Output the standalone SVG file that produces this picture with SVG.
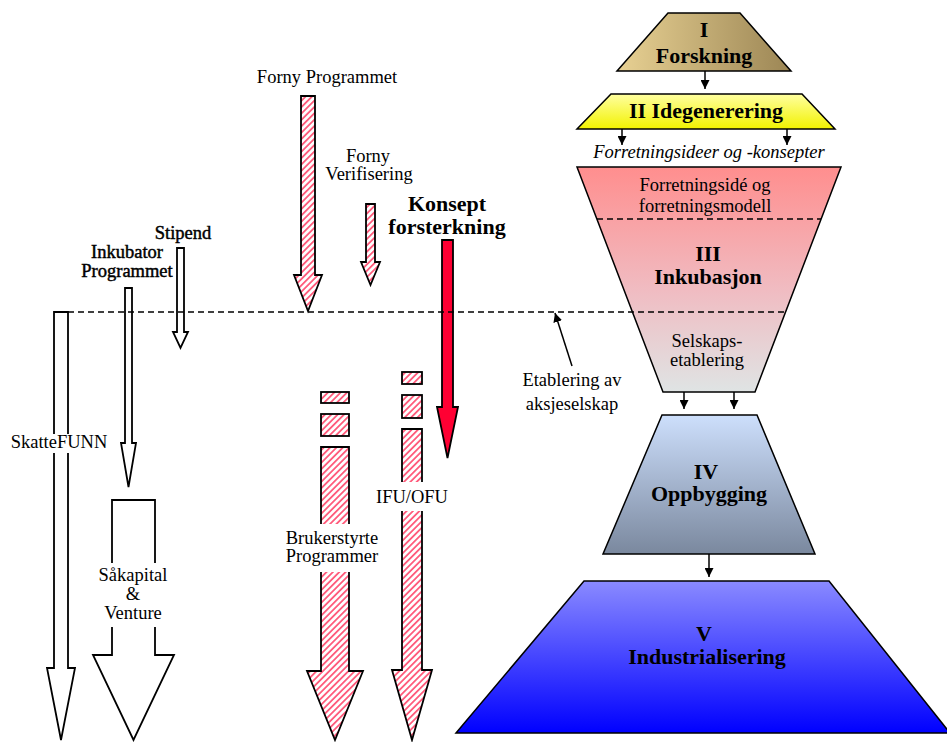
<svg xmlns="http://www.w3.org/2000/svg" width="947" height="742" viewBox="0 0 947 742">
<defs>
<linearGradient id="gI" x1="0" y1="0" x2="1" y2="0"><stop offset="0" stop-color="#e8d193"/><stop offset="1" stop-color="#9c8655"/></linearGradient>
<linearGradient id="gII" x1="0" y1="0" x2="0" y2="1"><stop offset="0" stop-color="#ffffa0"/><stop offset="1" stop-color="#f2f200"/></linearGradient>
<linearGradient id="gIII" x1="0" y1="0" x2="0" y2="1"><stop offset="0" stop-color="#ff8e8e"/><stop offset="0.55" stop-color="#f0bcc2"/><stop offset="1" stop-color="#dfe4e4"/></linearGradient>
<linearGradient id="gIV" x1="0" y1="0" x2="0" y2="1"><stop offset="0" stop-color="#cddffc"/><stop offset="1" stop-color="#7a889e"/></linearGradient>
<linearGradient id="gV" x1="0" y1="0" x2="0" y2="1"><stop offset="0" stop-color="#8a8aff"/><stop offset="1" stop-color="#0000ff"/></linearGradient>
<pattern id="hatch" patternUnits="userSpaceOnUse" width="4.5" height="4.5" patternTransform="rotate(45)">
<rect width="4.5" height="4.5" fill="#ffffff"/><rect width="1.8" height="4.5" fill="#ff5c7c"/>
</pattern>
<marker id="ah" viewBox="0 0 10 10" refX="10" refY="5" markerWidth="9" markerHeight="9" markerUnits="userSpaceOnUse" orient="auto"><path d="M0,0 L10,5 L0,10 Z" fill="#000"/></marker>
</defs>
<style>
.t{font-family:"Liberation Serif","Times New Roman",serif;fill:#000;text-anchor:middle}
.r{font-size:18.5px}
.b{font-size:22px;font-weight:bold}
.sb{font-size:18.5px;stroke:#000;stroke-width:0.45}
.it{font-size:18.5px;font-style:italic}
.stage{stroke:#000;stroke-width:1.5}
.arr{stroke:#000;stroke-width:1.8;stroke-linejoin:miter}
.open{fill:#fff}
.hat{fill:url(#hatch)}
.dash{stroke:#000;stroke-width:1.6;stroke-dasharray:6 4;fill:none}
.con{stroke:#000;stroke-width:1.5;fill:none}
.bg{fill:#fff}
</style>
<rect width="947" height="742" fill="#fff"/>

<g id="stage-I">
<path class="stage" d="M668,13 H740 L791,71 H617 Z" fill="url(#gI)"/>
<text class="t b" x="704" y="37">I</text>
<text class="t b" x="704" y="63">Forskning</text>
</g>
<g id="stage-II">
<path class="stage" d="M611,94 H802 L835,129 H577 Z" fill="url(#gII)"/>
<text class="t b" x="706" y="118">II Idegenerering</text>
</g>
<g id="label-ideas">
<text class="t it" x="709" y="158">Forretningsideer og -konsepter</text>
</g>
<g id="stage-III">
<path class="stage" d="M577,167 H841 L755,392 H663 Z" fill="url(#gIII)"/>
<line class="dash" x1="597" y1="219" x2="821" y2="219"/>
<text class="t r" x="705" y="191">Forretningsidé og</text>
<text class="t r" x="705" y="212">forretningsmodell</text>
<text class="t b" x="708" y="261">III</text>
<text class="t b" x="708" y="284">Inkubasjon</text>
<text class="t r" x="707" y="347">Selskaps-</text>
<text class="t r" x="707" y="366">etablering</text>
</g>
<g id="stage-IV">
<path class="stage" d="M662,415 H757 L815,554 H603 Z" fill="url(#gIV)"/>
<text class="t b" x="706" y="479">IV</text>
<text class="t b" x="709" y="501">Oppbygging</text>
</g>
<g id="stage-V">
<path class="stage" d="M584,581 H829 L950,733 H456 Z" fill="url(#gV)"/>
<text class="t b" x="704" y="641">V</text>
<text class="t b" x="707" y="664">Industrialisering</text>
</g>

<g id="forny-programmet">
<path class="arr hat" d="M301,96 H315 V275 H322 L308,311 L294,275 H301 Z"/>
<text class="t r" x="327" y="83">Forny Programmet</text>
</g>
<g id="forny-verifisering">
<path class="arr hat" d="M366,204 H375 V262 H380 L370.5,285 L361,262 H366 Z"/>
<text class="t r" x="368" y="162">Forny</text>
<text class="t r" x="369" y="180">Verifisering</text>
</g>
<g id="konsept">
<path class="arr" fill="#ff0033" d="M442,240 H453 V407 H458 L447.5,458 L437,407 H442 Z"/>
<text class="t b" x="447" y="211">Konsept</text>
<text class="t b" x="447" y="234">forsterkning</text>
</g>
<g id="stipend">
<path class="arr open" d="M177,248 H184 V332 H188 L180.5,348 L173,332 H177 Z"/>
<text class="t sb" x="183" y="239">Stipend</text>
</g>
<g id="inkubator">
<path class="arr open" d="M125,288 H132 V443 H136 L128.5,487 L121,443 H125 Z"/>
<text class="t sb" x="127" y="258">Inkubator</text>
<text class="t sb" x="127" y="277">Programmet</text>
</g>
<g id="skattefunn">
<path class="arr open" d="M54,312 H68 V668 H75 L61,740 L47,668 H54 Z"/>
<rect class="bg" x="8" y="434" width="102" height="19"/>
<text class="t r" x="59" y="448">SkatteFUNN</text>
</g>
<g id="sakapital">
<path class="arr open" d="M112,500 H155 V655 H174 L133.5,740 L93,655 H112 Z"/>
<rect class="bg" x="86" y="563" width="95" height="64"/>
<text class="t r" x="133" y="581">Såkapital</text>
<text class="t r" x="133" y="600">&amp;</text>
<text class="t r" x="133" y="619">Venture</text>
</g>
<g id="brukerstyrte">
<rect class="arr hat" x="321" y="392" width="28" height="11"/>
<rect class="arr hat" x="321" y="414" width="28" height="22"/>
<path class="arr hat" d="M321,447 H349 V671 H363 L335,740 L307,671 H321 Z"/>
<rect class="bg" x="284" y="524" width="100" height="48"/>
<text class="t r" x="332" y="544">Brukerstyrte</text>
<text class="t r" x="332" y="562">Programmer</text>
</g>
<g id="ifu-ofu">
<rect class="arr hat" x="402" y="372" width="20" height="12"/>
<rect class="arr hat" x="402" y="395" width="20" height="23"/>
<path class="arr hat" d="M402,429 H422 V670 H432 L412,740 L392,670 H402 Z"/>
<rect class="bg" x="374" y="482" width="78" height="29"/>
<text class="t r" x="412" y="503">IFU/OFU</text>
</g>
<g id="etablering">
<text class="t r" x="572" y="386">Etablering av</text>
<text class="t r" x="572" y="410">aksjeselskap</text>
</g>

<g id="connectors">
<line class="dash" x1="68" y1="312" x2="785" y2="312"/>
<line class="con" x1="705" y1="71" x2="705" y2="89" marker-end="url(#ah)"/>
<line class="con" x1="622" y1="129" x2="622" y2="145" marker-end="url(#ah)"/>
<line class="con" x1="787" y1="129" x2="787" y2="145" marker-end="url(#ah)"/>
<line class="con" x1="684" y1="392" x2="684" y2="409" marker-end="url(#ah)"/>
<line class="con" x1="734" y1="392" x2="734" y2="409" marker-end="url(#ah)"/>
<line class="con" x1="709" y1="554" x2="709" y2="577" marker-end="url(#ah)"/>
<line class="con" x1="572" y1="366" x2="555" y2="313" marker-end="url(#ah)"/>
</g>
</svg>
